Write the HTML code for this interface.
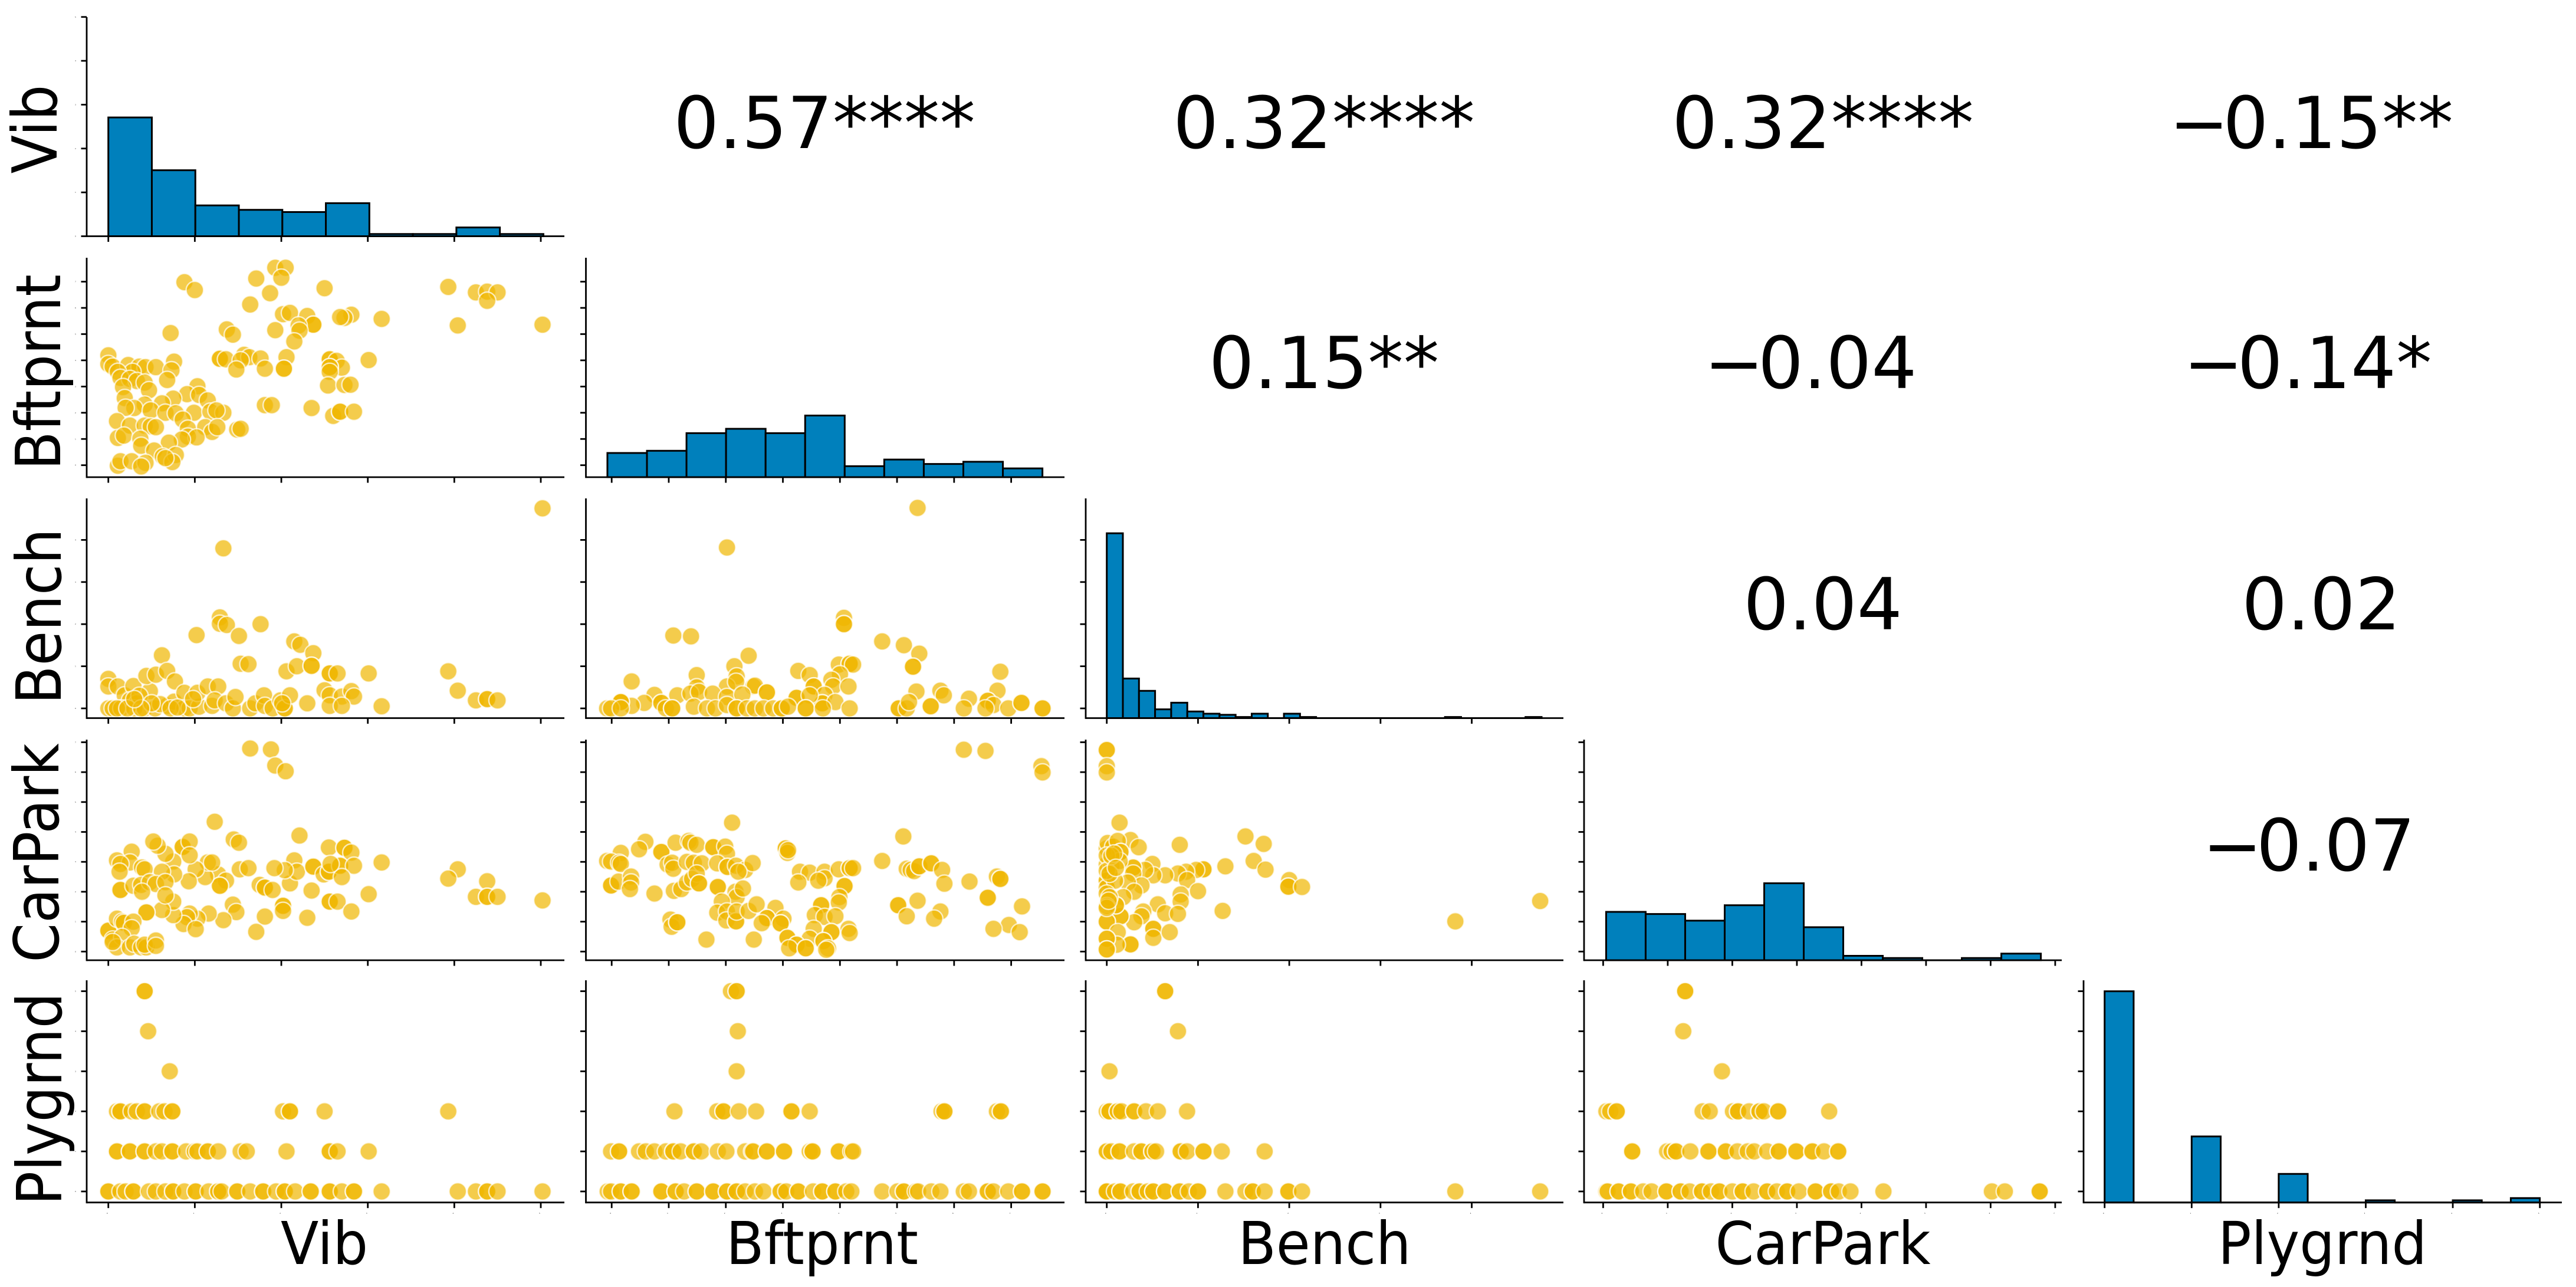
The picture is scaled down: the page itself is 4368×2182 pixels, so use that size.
<!DOCTYPE html>
<html lang="en">
<head>
<meta charset="utf-8">
<title>Pair plot of Vib, Bftprnt, Bench, CarPark and Plygrnd</title>
<style>
  html, body { margin: 0; padding: 0; background: #fff; }
  svg { display: block; }
  text { font-family: "DejaVu Sans", "Liberation Sans", sans-serif; fill: #000; }
</style>
</head>
<body>
<svg id="pair-plot" xmlns="http://www.w3.org/2000/svg" width="4368" height="2182" viewBox="0 0 4368 2182">
  <rect x="0" y="0" width="4368" height="2182" fill="#ffffff"/>
  <g id="panels"></g>

  <g font-size="121" text-anchor="middle">
    <text x="1398" y="251">0.57****</text>
    <text x="2245" y="251">0.32****</text>
    <text x="3091" y="251">0.32****</text>
    <text x="3919" y="251">−<tspan dx="-10">0.15**</tspan></text>
    <text x="2245" y="658">0.15**</text>
    <text x="3070" y="658">−<tspan dx="-10">0.04</tspan></text>
    <text x="3913" y="658">−<tspan dx="-10">0.14*</tspan></text>
    <text x="3091" y="1067">0.04</text>
    <text x="3936" y="1067">0.02</text>
    <text x="3915" y="1476">−<tspan dx="-10">0.07</tspan></text>
  </g>

  <g font-size="94" text-anchor="middle">
    <text transform="translate(550 2143) scale(1 1.06)">Vib</text>
    <text transform="translate(1394 2143) scale(1 1.06)">Bftprnt</text>
    <text transform="translate(2246 2143) scale(1 1.06)">Bench</text>
    <text transform="translate(3091 2143) scale(1 1.06)">CarPark</text>
    <text transform="translate(3938 2143) scale(1 1.06)">Plygrnd</text>
  </g>
  <g font-size="92" text-anchor="middle">
    <text transform="translate(96 219) rotate(-90) scale(1.04 1.14)">Vib</text>
    <text transform="translate(102 631) rotate(-90) scale(1.04 1.14)">Bftprnt</text>
    <text transform="translate(103 1045) rotate(-90) scale(1.04 1.14)">Bench</text>
    <text transform="translate(99 1446) rotate(-90) scale(1.04 1.14)">CarPark</text>
    <text transform="translate(104 1863) rotate(-90) scale(1.04 1.14)">Plygrnd</text>
  </g>
</svg>

<script>
// ---------- tick labels (unit = one tick step; the printed labels are illegibly small) ----------
const vibTicks = [0, 1, 2, 3, 4, 5];
const bftprntTicks = [0, 1, 2, 3, 4, 5, 6, 7];
const benchTicks = [0, 1, 2, 3, 4];
const carparkTicks = [0, 1, 2, 3, 4, 5, 6, 7];
const plygrndTicks = [0, 1, 2, 3, 4, 5];

// ---------- histogram counts and bins ----------
const vibCounts = [54, 30, 14, 12, 11, 15, 1, 1, 4, 1];
const bftprntCounts = [11, 12, 20, 22, 20, 28, 5, 8, 6, 7, 4];
const benchCounts = [84, 18, 12.4, 4, 7, 3, 2, 1.5, 0.5, 2, 0, 2, 0.5, 0, 0, 0, 0, 0, 0, 0, 0, 0.5, 0, 0, 0, 0, 0.5];
const carparkCounts = [22, 21, 18, 25, 35, 15, 2, 1, 0, 1, 3];
const plygrndCounts = [96, 0, 0, 30, 0, 0, 13, 0, 0, 1, 0, 0, 1, 0, 2];
const vibBins = [0, 0.503];
const bftprntBins = [-0.075, 0.693];
const benchBins = [0, 0.1765];
const carparkBins = [0.046, 0.612];
const plygrndBins = [0, 0.3333];

// ---------- scatter observations: [x value, y value] ----------
const bftprntVsVib = [[.88,6.98],[1,6.68],[1.71,7.12],[1.93,7.53],[2.05,7.53],[2,7.15],[1.87,6.56],[1.64,6.13],[2.5,6.75],[3.93,6.8],[4.25,6.59],[4.38,6.62],[4.5,6.59],[4.38,6.27],[5.02,5.36],[4.04,5.33],[3.16,5.58],[2.81,5.74],[2.73,5.62],[2.68,5.65],[2.02,5.76],[2.1,5.81],[2.3,5.69],[2.37,5.36],[2.37,5.36],[2.2,5.33],[2.21,5.13],[2.15,4.72],[1.93,5.15],[1.37,5.18],[1.44,4.98],[.72,5.04],[0,4.19],[0,3.86],[.05,3.76],[.23,3.82],[.36,3.76],[.43,3.74],[.55,3.74],[.76,3.95],[.73,3.62],[.68,3.25],[.28,3.56],[.11,3.56],[.14,3.33],[.25,3.29],[.33,3.21],[.42,3.15],[.47,2.86],[.17,2.98],[.19,2.56],[1.03,3.01],[.91,2.71],[1.05,2.68],[1.15,2.47],[.75,2.54],[.62,2.36],[.42,2.31],[.3,2.18],[.2,2.19],[.49,2.09],[.66,2],[.78,1.98],[.99,2],[.86,1.74],[1.18,2.04],[1.33,2],[1.25,2.09],[.1,1.68],[.25,1.51],[.42,1.51],[.49,1.48],[.55,1.45],[.11,1.04],[.18,1.13],[.37,1.01],[.92,1.39],[1.12,1.45],[1.2,1.27],[1.26,1.45],[1.49,1.36],[1.53,1.39],[.92,1.09],[1.02,1.06],[.85,.98],[.7,.86],[.38,.74],[.53,.56],[.63,.33],[.78,.39],[.74,.12],[.66,.27],[.11,-.02],[.14,.15],[.27,.15],[.43,.09],[.38,-.05],[1.29,4.06],[1.29,4.06],[1.36,4.04],[1.57,4.21],[1.63,4.12],[1.53,4],[1.48,3.65],[1.76,4.07],[1.81,3.68],[2.06,4.12],[2.03,3.68],[2.03,3.68],[2.56,4.04],[2.56,4.04],[2.64,3.98],[2.7,3.72],[2.56,3.74],[2.56,3.74],[2.56,3.56],[3.01,4.01],[2.54,3.04],[2.73,3.06],[2.8,3.07],[1.81,2.29],[1.89,2.29],[2.35,2.18],[2.6,1.88],[2.68,2.04],[2.68,2.04],[2.84,2.04]];

const benchVsVib = [[5.02,4.75],[1.33,3.8],[1.29,2.16],[1.29,2.01],[1.37,1.98],[1.76,2],[1.02,1.74],[1.51,1.72],[2.15,1.59],[2.22,1.51],[2.37,1.31],[.62,1.26],[1.53,1.06],[1.62,1.05],[2.06,.88],[2.18,1],[2.35,1.01],[2.35,1.01],[2.56,.83],[2.56,.83],[2.65,.83],[3.01,.83],[3.93,.88],[4.04,.42],[4.25,.19],[4.38,.22],[4.38,.22],[4.5,.19],[3.16,.05],[2.3,.12],[2.5,.43],[2.56,.31],[2.7,.28],[2.81,.41],[2.84,.28],[2.56,.06],[2.7,.06],[0,.7],[0,.52],[.11,.52],[.19,.31],[.29,.53],[.48,.41],[.44,.77],[.55,.8],[.68,.89],[.77,.64],[.25,.19],[.33,.12],[0,0],[.05,0],[.15,0],[.3,0],[.42,0],[.54,0],[.68,.06],[.76,.16],[.88,.37],[.88,0],[.94,0],[1.05,.04],[1.03,.37],[1.15,.52],[1.27,.52],[1.2,.06],[1.23,.19],[1.36,.12],[1.44,0],[1.47,.27],[1.64,0],[1.7,.12],[1.8,.31],[1.81,.06],[1.9,0],[1.99,.19],[2.04,0],[2.04,0],[2.1,.31],[2.01,.12],[.36,.3],[.6,.1],[.72,0],[.98,.22],[.1,0],[.22,0],[.5,.12],[.38,0],[.3,.22],[.8,.02]];

const benchVsBftprnt = [[5.36,4.76],[2.02,3.82],[1.08,1.73],[1.39,1.71],[4.07,2.15],[4.07,2],[4.07,2],[4.74,1.59],[5.12,1.5],[5.39,1.3],[5.28,.99],[5.28,.99],[2.4,1.25],[2.15,1],[1.49,.79],[.35,.64],[3.27,.89],[3.47,.79],[3.98,1.04],[4.17,1.06],[4.17,1.06],[4.23,1.04],[4,.81],[2.19,.76],[2.02,.52],[2.18,.63],[2.48,.52],[2.51,.54],[3.85,.68],[3.88,.52],[3.54,.52],[3.54,.52],[4.15,.52],[5.34,.4],[5.76,.42],[5.82,.31],[6.26,.23],[6.81,.87],[6.76,.42],[6.59,.18],[6.59,.18],[6.69,.08],[.75,.32],[.57,.13],[.35,.06],[.16,.15],[.16,.15],[.16,.15],[1.15,.31],[.87,.13],[.87,.13],[1.49,.5],[1.38,.35],[1.53,.39],[1.77,.35],[2.02,.27],[2.29,.33],[2.72,.38],[2.72,.38],[3.24,.25],[3.24,.25],[3.73,.32],[3.69,.12],[3.69,.12],[3.92,.15],[3.47,.31],[-.08,0],[-.01,0],[.16,0],[.95,0],[1.06,0],[1.06,0],[1.44,.04],[1.67,0],[1.82,0],[2.02,.08],[2.19,0],[2.19,0],[2.37,0],[2.51,0],[2.66,0],[2.83,0],[2.98,0],[2.98,0],[3.09,.04],[3.4,0],[3.4,0],[3.7,0],[4.17,0],[5.03,0],[5.03,0],[5.17,0],[5.21,.15],[5.59,.05],[5.59,.05],[6.17,0],[6.55,0],[6.95,0],[7.18,.13],[7.18,.13],[7.55,0],[7.55,0]];

const carparkVsVib = [[1.64,6.79],[1.88,6.76],[1.93,6.22],[2.05,6.03],[1.23,4.34],[2.21,3.88],[1.45,3.75],[1.51,3.64],[2.55,3.48],[2.73,3.47],[2.73,3.47],[2.81,3.31],[3.16,2.98],[4.04,2.75],[3.93,2.44],[4.38,2.35],[4.25,1.83],[4.38,1.83],[4.38,1.83],[4.5,1.83],[5.02,1.71],[3.01,1.92],[2.56,1.67],[2.56,1.67],[2.65,1.67],[2.81,1.34],[2.3,1.13],[2.35,2.04],[2.1,2.28],[2.15,3.05],[2.18,2.67],[2.04,2.72],[1.92,2.79],[2.37,2.84],[2.37,2.84],[2.49,2.58],[2.55,2.67],[2.55,2.67],[2.68,2.87],[2.68,2.87],[2.84,2.87],[2.7,2.49],[2.57,2.93],[1.52,2.75],[1.62,2.79],[1.27,2.58],[1.36,2.37],[1.29,2.2],[1.29,2.2],[1.12,2.49],[1.15,2.98],[1.2,2.98],[1.01,2.75],[.93,2.35],[1.75,2.23],[1.81,2.14],[1.81,2.14],[1.9,2.06],[2.02,1.53],[2.02,1.53],[2.02,1.36],[1.81,1.17],[1.71,.66],[1.44,1.57],[1.48,1.32],[1.33,1.05],[1.16,1.27],[1.03,1.1],[.94,1.27],[.91,1.15],[.87,.92],[1.01,.75],[.75,1.22],[.75,1.67],[.62,1.39],[.44,1.31],[.44,1.31],[.86,3.5],[.86,3.5],[.94,3.68],[.94,3.22],[.75,3.01],[.76,2.58],[.66,3.27],[.57,3.54],[.52,3.68],[.27,3.34],[.1,3.05],[.25,2.98],[.14,2.93],[.13,2.67],[.14,2.06],[.14,2.06],[.39,2.81],[.42,2.75],[.62,2.67],[.29,2.2],[.38,2.23],[.48,2.32],[.55,2.26],[.66,2.32],[.39,2],[.66,1.88],[0,.7],[0,.7],[.05,.4],[.1,1.1],[.16,1],[.18,.96],[.29,1],[.27,.78],[.16,.49],[.1,.14],[.25,.14],[.3,.26],[.38,.14],[.44,.14],[.42,.23],[.55,.37],[.55,.19],[.05,.32]];

const carparkVsBftprnt = [[6.17,6.75],[6.55,6.71],[7.53,6.2],[7.55,5.99],[2.11,4.31],[5.11,3.85],[.59,3.67],[.48,3.42],[.16,3.3],[-.08,3.03],[-.01,3.01],[.13,2.97],[.16,2.93],[.87,3.33],[.87,3.33],[1.12,3.64],[.98,2.91],[1.06,2.97],[1.08,2.77],[1.35,3.7],[1.38,3.64],[1.49,3.57],[1.32,3],[1.44,2.97],[1.58,2.95],[1.78,3.49],[1.78,3.49],[1.99,3.51],[2.02,3.27],[1.85,2.95],[2.03,2.83],[2.03,2.83],[2.18,2.87],[2.34,2.73],[2.47,2.96],[2.22,2.67],[3.05,3.45],[3.05,3.45],[3.08,3.3],[3.09,3.39],[4.74,3.03],[3.3,2.67],[3.47,2.64],[3.73,2.67],[3.73,2.45],[3.62,2.37],[3.98,2.75],[4.17,2.79],[4.17,2.79],[4.23,2.79],[3.27,2.31],[4.08,2.19],[4.08,2.19],[3.99,1.82],[3.98,1.64],[3.67,1.55],[3.67,1.55],[3.56,1.22],[3.73,1.16],[3.92,1.18],[5.17,2.77],[5.24,2.73],[5.3,2.69],[5.39,2.85],[5.39,2.85],[5.6,2.95],[5.6,2.95],[5.79,2.73],[5.83,2.27],[6.27,2.34],[6.75,2.51],[6.81,2.43],[6.81,2.43],[6.59,1.8],[6.59,1.8],[7.19,1.51],[6.96,.89],[6.69,.76],[7.15,.65],[5.02,1.55],[5.02,1.55],[5.36,1.7],[5.17,1.18],[5.76,1.34],[5.65,1.1],[-.01,2.21],[-.01,2.21],[.12,2.34],[.34,2.51],[.34,2.31],[.32,2.09],[.75,1.94],[1.09,2.03],[1.22,2.09],[1.32,2.31],[1.41,2.43],[1.49,2.61],[1.53,2.28],[1.53,2.28],[1.86,2.16],[1.86,2.16],[2.17,2],[2.19,1.82],[2.3,2.11],[1.93,1.67],[1.85,1.3],[2.02,1.34],[2.01,1.04],[2.18,1.01],[2.18,1.01],[2.19,1.34],[2.4,1.36],[2.54,1.58],[2.87,1.46],[2.72,1.12],[2.72,1.12],[2.63,.95],[3.01,1.1],[2.96,.94],[2.96,.94],[1.03,1.07],[1.05,.83],[1.15,.98],[1.15,.98],[1.66,.4],[2.49,.4],[3.08,.46],[3.08,.46],[4.15,.76],[4.17,.62],[3.85,.65],[3.85,.65],[3.54,.76],[3.47,.43],[3.71,.35],[3.71,.35],[3.24,.23],[3.24,.23],[3.11,.11],[3.4,.11],[3.4,.11],[3.79,.11],[3.76,.06]];

const carparkVsBench = [[0,6.74],[0,6.74],[0,6.2],[0,5.99],[.14,4.31],[.26,3.73],[.35,3.49],[.8,3.57],[1.52,3.85],[1.72,3.6],[1.61,3.03],[1.74,2.74],[1.3,2.85],[1.06,2.75],[1.06,2.75],[.98,2.73],[.87,2.67],[.78,2.61],[.88,2.39],[.64,2.55],[.5,2.93],[.51,2.55],[.42,2.73],[.29,2.81],[.29,2.81],[.29,2.61],[1,2.02],[.81,1.91],[.81,1.67],[2,2.39],[1.99,2.17],[1.99,2.17],[2.14,2.16],[.38,2.21],[.23,2.31],[.3,2],[.18,1.82],[.56,1.58],[.64,1.28],[.78,1.26],[1.27,1.36],[.4,1.34],[.38,1.18],[.3,.98],[.15,1.18],[.15,1.18],[.1,1.55],[.1,1.55],[0,1],[0,1],[.51,.76],[.51,.76],[.51,.46],[.69,.65],[.12,.65],[.26,.24],[.26,.24],[.11,.23],[0,.43],[0,.43],[0,.07],[0,.07],[3.82,1.01],[4.75,1.69],[0,3.45],[.01,3.63],[.07,3.51],[.12,3.7],[.15,3.33],[.15,3.33],[0,2.91],[.05,2.85],[.14,3.03],[0,2.37],[0,2.37],[0,2.13],[.09,2.37],[0,1.94],[.03,1.82],[0,1.52],[0,1.46],[0,3.21],[0,2.7],[.05,3.2],[.03,2.6],[.08,3.28],[.02,1.7],[.1,2.8]];

const plygrndVsVib = [[.42,5],[.42,5],[.46,4],[.71,3],[.1,2],[.14,2],[.14,2],[.27,2],[.33,2],[.42,2],[.42,2],[.59,2],[.65,2],[.74,2],[.74,2],[2.02,2],[2.1,2],[2.1,2],[2.5,2],[3.93,2],[.1,1],[.1,1],[.25,1],[.25,1],[.42,1],[.42,1],[.55,1],[.62,1],[.74,1],[.74,1],[.9,1],[1,1],[1.03,1],[1.15,1],[1.15,1],[1.27,1],[1.53,1],[1.6,1],[2.06,1],[2.56,1],[2.56,1],[2.65,1],[3.01,1],[0,0],[0,0],[.14,0],[.2,0],[.29,0],[.29,0],[.47,0],[.55,0],[.66,0],[.75,0],[.75,0],[.88,0],[1.01,0],[1.01,0],[1.16,0],[1.27,0],[1.27,0],[1.31,0],[1.49,0],[1.49,0],[1.64,0],[1.79,0],[1.79,0],[1.94,0],[2.04,0],[2.04,0],[2.16,0],[2.34,0],[2.34,0],[2.56,0],[2.56,0],[2.7,0],[2.84,0],[2.84,0],[3.16,0],[4.04,0],[4.25,0],[4.38,0],[4.38,0],[4.5,0],[5.02,0]];

const plygrndVsBftprnt = [[2.09,5],[2.19,5],[2.19,5],[2.21,4],[2.19,3],[1.1,2],[1.85,2],[1.96,2],[1.96,2],[2.23,2],[2.53,2],[3.15,2],[3.15,2],[3.47,2],[5.78,2],[5.83,2],[5.83,2],[6.75,2],[6.82,2],[6.82,2],[-.01,1],[.13,1],[.13,1],[.48,1],[.6,1],[.75,1],[.95,1],[1.08,1],[1.08,1],[1.21,1],[1.44,1],[1.44,1],[1.57,1],[1.86,1],[2.01,1],[2.34,1],[2.46,1],[2.48,1],[2.72,1],[2.72,1],[3.02,1],[3.02,1],[3.47,1],[3.52,1],[3.52,1],[3.98,1],[3.98,1],[4.2,1],[4.23,1],[-.07,0],[-.01,0],[.16,0],[.16,0],[.35,0],[.35,0],[.87,0],[.87,0],[1.12,0],[1.12,0],[1.27,0],[1.49,0],[1.49,0],[1.78,0],[1.78,0],[2.02,0],[2.02,0],[2.19,0],[2.19,0],[2.34,0],[2.51,0],[2.66,0],[2.96,0],[2.96,0],[3.06,0],[3.27,0],[3.27,0],[3.53,0],[3.69,0],[3.69,0],[3.92,0],[3.92,0],[4.11,0],[4.2,0],[4.74,0],[5.01,0],[5.12,0],[5.12,0],[5.33,0],[5.37,0],[5.6,0],[5.76,0],[6.17,0],[6.26,0],[6.59,0],[6.59,0],[6.69,0],[6.95,0],[7.19,0],[7.19,0],[7.55,0],[7.55,0]];

const plygrndVsBench = [[.64,5],[.64,5],[.78,4],[.03,3],[0,2],[.03,2],[.03,2],[.12,2],[.12,2],[.16,2],[.3,2],[.3,2],[.43,2],[.56,2],[.88,2],[0,1],[0,1],[.05,1],[.14,1],[.14,1],[.3,1],[.38,1],[.38,1],[.5,1],[.5,1],[.54,1],[.81,1],[.81,1],[.88,1],[1.06,1],[1.06,1],[1.26,1],[1.73,1],[0,0],[0,0],[0,0],[.09,0],[.15,0],[.15,0],[.29,0],[.36,0],[.36,0],[.45,0],[.51,0],[.51,0],[.64,0],[.64,0],[.8,0],[.8,0],[.9,0],[1,0],[1,0],[1.3,0],[1.52,0],[1.6,0],[1.6,0],[1.73,0],[1.99,0],[1.99,0],[2.14,0],[3.82,0],[4.75,0]];

const plygrndVsCarpark = [[1.27,5],[1.27,5],[1.24,4],[1.84,3],[.05,2],[.11,2],[.21,2],[.21,2],[1.54,2],[1.65,2],[2.01,2],[2.09,2],[2.09,2],[2.26,2],[2.42,2],[2.42,2],[2.49,2],[2.71,2],[2.71,2],[3.5,2],[.45,1],[.45,1],[.99,1],[1.06,1],[1.13,1],[1.13,1],[1.35,1],[1.63,1],[1.63,1],[1.9,1],[1.9,1],[2.08,1],[2.24,1],[2.34,1],[2.54,1],[2.72,1],[2.72,1],[2.99,1],[2.99,1],[3.24,1],[3.24,1],[3.42,1],[3.64,1],[3.64,1],[.05,0],[.07,0],[.24,0],[.24,0],[.43,0],[.43,0],[.62,0],[.75,0],[.98,0],[.98,0],[1.2,0],[1.2,0],[1.34,0],[1.53,0],[1.53,0],[1.67,0],[1.8,0],[1.8,0],[2,0],[2.16,0],[2.16,0],[2.33,0],[2.54,0],[2.54,0],[2.69,0],[2.85,0],[2.85,0],[3.03,0],[3.29,0],[3.29,0],[3.53,0],[3.53,0],[3.65,0],[3.83,0],[4.34,0],[6.02,0],[6.22,0],[6.76,0],[6.76,0]];

// ---------- layout ----------
const SVG_NS = 'http://www.w3.org/2000/svg';
const variables = [
  { key: 'vib',     ticks: vibTicks,     counts: vibCounts,     bins: vibBins,     left: 147,  right: 957,  top: 29,   bottom: 400.5,  x0: 183.7,  xStep: 146.66, y0: 400.5, yStep: 74.35 },
  { key: 'bftprnt', ticks: bftprntTicks, counts: bftprntCounts, bins: bftprntBins, left: 993.5, right: 1805, top: 437,  bottom: 809,    x0: 1037.2, xStep: 96.77,  y0: 788.7, yStep: 44.45 },
  { key: 'bench',   ticks: benchTicks,   counts: benchCounts,   bins: benchBins,   left: 1841, right: 2651, top: 845,  bottom: 1217.5, x0: 1876.7, xStep: 154.72, y0: 1201,  yStep: 71.4 },
  { key: 'carpark', ticks: carparkTicks, counts: carparkCounts, bins: carparkBins, left: 2686, right: 3496, top: 1254, bottom: 1628,   x0: 2718.4, xStep: 109.5,  y0: 1613.3, yStep: 50.7 },
  { key: 'plygrnd', ticks: plygrndTicks, counts: plygrndCounts, bins: plygrndBins, left: 3533, right: 4344, top: 1662, bottom: 2038.7, x0: 3568.7, xStep: 147.6,  y0: 2020,  yStep: 67.9 }
];
const scatterPanels = [
  { row: 1, col: 0, points: bftprntVsVib },
  { row: 2, col: 0, points: benchVsVib },
  { row: 2, col: 1, points: benchVsBftprnt },
  { row: 3, col: 0, points: carparkVsVib },
  { row: 3, col: 1, points: carparkVsBftprnt },
  { row: 3, col: 2, points: carparkVsBench },
  { row: 4, col: 0, points: plygrndVsVib },
  { row: 4, col: 1, points: plygrndVsBftprnt },
  { row: 4, col: 2, points: plygrndVsBench },
  { row: 4, col: 3, points: plygrndVsCarpark }
];
const COUNT_PX = 3.73;
const AXIS_WIDTH = 2.8;
const TICK_LENGTH = 9.5;

// ---------- axis functions ----------
function xScale(col, value) {
  return variables[col].x0 + value * variables[col].xStep;
}
function yScale(row, value) {
  return variables[row].y0 - value * variables[row].yStep;
}
function countScale(row, count) {
  return variables[row].bottom - count * COUNT_PX;
}

function svgEl(tag, parent) {
  const el = document.createElementNS(SVG_NS, tag);
  parent.appendChild(el);
  return el;
}
function setLine(el, x1, y1, x2, y2) {
  el.setAttribute('x1', x1);
  el.setAttribute('y1', y1);
  el.setAttribute('x2', x2);
  el.setAttribute('y2', y2);
  el.setAttribute('stroke', '#000');
  el.setAttribute('stroke-width', AXIS_WIDTH);
}

function drawHistogram(parent, i) {
  const v = variables[i];
  const group = svgEl('g', parent);
  
  
  v.counts.forEach(function (count, b) {
    const bar = svgEl('path', group);
    const xa = xScale(i, v.bins[0] + b * v.bins[1]);
    const xb = xScale(i, v.bins[0] + (b + 1) * v.bins[1]);
    const yt = countScale(i, count);
    bar.setAttribute('d', 'M' + xa + ' ' + v.bottom + 'V' + yt + 'H' + xb + 'V' + v.bottom + 'Z');
    bar.setAttribute('fill', '#0080BC');
    bar.setAttribute('stroke', '#000');
    bar.setAttribute('stroke-width', '3');
    
    
  });
}

function drawScatter(parent, panel) {
  const group = svgEl('g', parent);
  
  
  panel.points.forEach(function (p) {
    const dot = svgEl('circle', group);
    dot.setAttribute('cx', xScale(panel.col, p[0]));
    dot.setAttribute('cy', yScale(panel.row, p[1]));
    dot.setAttribute('r', '14.8');
    dot.setAttribute('fill', '#EFB600');
    dot.setAttribute('fill-opacity', '0.7');
    dot.setAttribute('stroke', '#fff');
    dot.setAttribute('stroke-opacity', '0.7');
    dot.setAttribute('stroke-width', '2.4');
    
    
  });
}

function drawAxes(parent, row, col) {
  const rowVar = variables[row];
  const colVar = variables[col];
  const group = svgEl('g', parent);
  
  

  const ySpine = svgEl('line', group);
  setLine(ySpine, colVar.left, rowVar.top, colVar.left, rowVar.bottom + AXIS_WIDTH / 2);
  
  

  const xSpine = svgEl('line', group);
  setLine(xSpine, colVar.left, rowVar.bottom, colVar.right, rowVar.bottom);
  
  

  colVar.ticks.forEach(function (t) {
    const x = xScale(col, t);
    const mark = svgEl('line', group);
    setLine(mark, x, rowVar.bottom, x, rowVar.bottom + TICK_LENGTH);
    
    
    if (row === 4) {
      const label = svgEl('text', group);
      label.setAttribute('x', x - 2);
      label.setAttribute('y', rowVar.bottom + 19.5);
      label.setAttribute('font-size', '2.6');
      label.setAttribute('text-anchor', 'middle');
      label.textContent = t;
      
      
    }
  });

  rowVar.ticks.forEach(function (t) {
    const y = yScale(row, t);
    const mark = svgEl('line', group);
    setLine(mark, colVar.left - TICK_LENGTH, y, colVar.left, y);
    
    
    if (col === 0) {
      const label = svgEl('text', group);
      label.setAttribute('x', colVar.left - 19);
      label.setAttribute('y', y + 1);
      label.setAttribute('font-size', '2.6');
      label.setAttribute('text-anchor', 'middle');
      label.textContent = t;
      
      
    }
  });
}

// ---------- render ----------
const panelsRoot = document.getElementById('panels');
variables.forEach(function (v, i) {
  drawHistogram(panelsRoot, i);
  drawAxes(panelsRoot, i, i);
});
scatterPanels.forEach(function (panel) {
  drawScatter(panelsRoot, panel);
  drawAxes(panelsRoot, panel.row, panel.col);
});
</script>
</body>
</html>
